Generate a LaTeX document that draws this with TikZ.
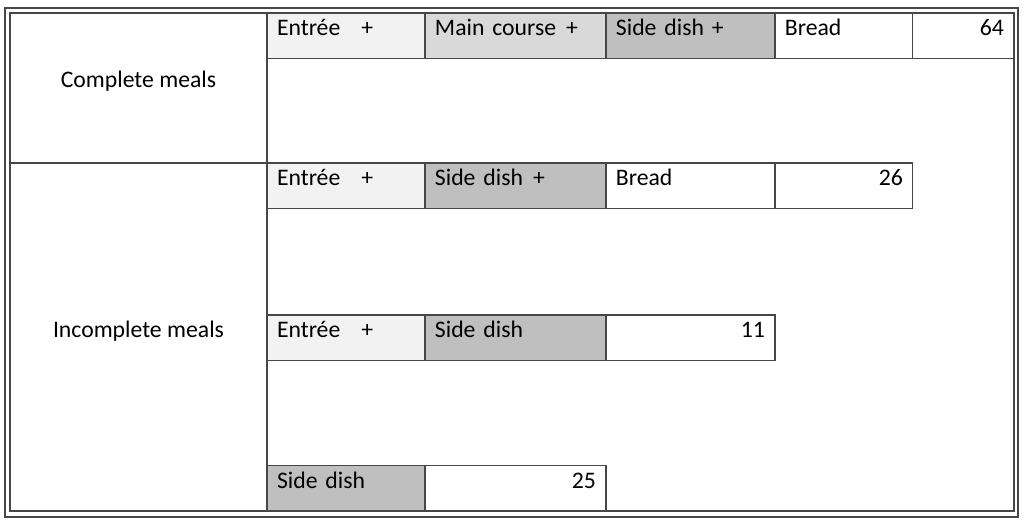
\documentclass[tikz,border=0pt]{standalone}
\usepackage{fontspec}
\setmainfont{Carlito}
\usetikzlibrary{positioning}

\begin{document}
\begin{tikzpicture}[
    x=0.02cm, y=-0.02cm, % one unit is one pixel of the layout, y grows downwards
    every node/.style={
        font=\fontsize{13.5}{16}\selectfont, % same text size everywhere
        text=black
    },
    cell/.style={
        draw=black!72, % thin dark grey border
        line width=0.7pt,
        outer sep=0pt, % neighbouring cells share their border
        inner xsep=0.2cm,
        inner ysep=0.06cm,
        text height=0.40cm, % text sits near the top of the cell
        text depth=0.39cm
    },
    rowhead/.style={
        draw=black!72,
        line width=0.7pt,
        outer sep=0pt,
        minimum width=5.14cm,
        text height=0pt, text depth=0pt % baseline in the middle
    },
    entree/.style={cell, fill=black!5, text width=2.76cm, align=left},
    maincourse/.style={cell, fill=black!15, text width=3.22cm, align=left},
    sidedish/.style={cell, fill=black!25, align=left},
    plain/.style={cell, fill=white, align=left},
    count/.style={cell, fill=white, align=right}
]
\useasboundingbox (0,0) rectangle (1024,527);

% double frame round the whole table
\draw[black!72, line width=0.7pt] (5,8) rectangle (1018,517);
\draw[black!72, line width=0.7pt] (10,13) rectangle (1014,511);

% row heads
\node[rowhead, minimum height=3cm] (complete) at (138.5,88) {Complete meals};
\node[rowhead, minimum height=6.96cm] (incomplete) at (138.5,337) {Incomplete meals};

% complete meals
\node[entree, anchor=north west] (ca) at (267,13) {Entrée\hspace{0.42cm}+};
\node[maincourse, right=0pt of ca] (cb) {Main course\hspace{0.2cm}+};
\node[sidedish, text width=2.98cm, right=0pt of cb] (cc) {Side dish +};
\node[plain, text width=2.36cm, right=0pt of cc] (cd) {Bread};
\node[count, text width=1.62cm, right=0pt of cd] (ce) {64};

% entree + side dish + bread
\node[entree, anchor=north west] (ia) at (267,163) {Entrée\hspace{0.42cm}+};
\node[sidedish, text width=3.22cm, right=0pt of ia] (ib) {Side dish\hspace{0.2cm}+};
\node[plain, text width=2.98cm, right=0pt of ib] (ic) {Bread};
\node[count, text width=2.36cm, right=0pt of ic] (id) {26};

% entree + side dish
\node[entree, anchor=north west] (ja) at (267,315) {Entrée\hspace{0.42cm}+};
\node[sidedish, text width=3.22cm, right=0pt of ja] (jb) {Side dish};
\node[count, text width=2.98cm, right=0pt of jb] (jc) {11};

% side dish only
\node[sidedish, text width=2.76cm, anchor=south west] (ka) at (267,511) {Side dish};
\node[count, text width=3.22cm, right=0pt of ka] (kb) {25};

\end{tikzpicture}
\end{document}
